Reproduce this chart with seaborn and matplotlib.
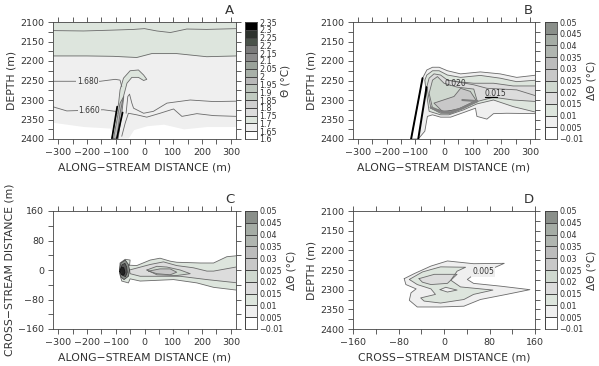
import numpy as np
import seaborn as sns
import matplotlib
matplotlib.use("Agg")
import matplotlib.pyplot as plt
from matplotlib.colors import ListedColormap

# colour key levels, top to bottom
theta_levels = ["2.35", "2.3", "2.25", "2.2", "2.15", "2.1", "2.05", "2", "1.95", "1.9",
                "1.85", "1.8", "1.75", "1.7", "1.65", "1.6"]
theta_colors = ["#000000", "#2e332e", "#4a524a", "#7a7a7a", "#8c8c8c", "#9aa29a", "#a8b0a8",
                "#b8b8b8", "#bcc4bc", "#c0cac0", "#cfcfcf", "#dcdcdc", "#dde5dd", "#efefef", "#ffffff"]
delta_levels = ["0.05", "0.045", "0.04", "0.035", "0.03", "0.025", "0.02", "0.015", "0.01",
                "0.005", "\u22120.01"]
delta_colors = ["#8a8f8a", "#a5aca5", "#b0b5b0", "#bcbcbc", "#c8c8c8", "#cfd8cf", "#dcdcdc",
                "#dde5dd", "#efefef", "#ffffff"]

# panel A: isotherms
a_top_x = [-320, -212, -119, -38, 0, 43, 90, 147, 216, 320]
a_top_d = [2122, 2123, 2121, 2119, 2117, 2123, 2127, 2118, 2119, 2117]
a_mid_x = [-320, -200, -108, -27, 25, 112, 216, 320]
a_mid_d = [2187, 2187, 2188, 2191, 2181, 2181, 2189, 2187]
a_white_x = [-320, -212, -119, -102, -56, -38, 8, 66, 136, 217, 320]
a_white_d = [2357, 2368, 2372, 2400, 2397, 2376, 2366, 2362, 2374, 2368, 2368]
a_680_x = [-320, -154, -102, -85, -79]
a_680_d = [2252, 2252, 2247, 2249, 2266]
a_660_x = [-320, -270, -143, -102, -94]
a_660_d = [2317, 2328, 2325, 2329, 2334]
a_low1_x = [-64, -58, -52, -44, -38, -3, 31, 78, 159, 240, 320]
a_low1_d = [2334, 2291, 2285, 2308, 2321, 2334, 2329, 2308, 2300, 2304, 2303]
a_low2_x = [-79, -67, -56, -27, 8, 54, 101, 130, 182, 240, 320]
a_low2_d = [2393, 2359, 2334, 2338, 2344, 2334, 2323, 2342, 2335, 2340, 2342]
a_plume_x = [-114, -90, -85, -73, -50, -21, -3, 8, -3, -21, -44, -61, -73, -85, -96]
a_plume_d = [2400, 2308, 2274, 2244, 2225, 2223, 2236, 2247, 2250, 2242, 2242, 2257, 2291, 2334, 2397]
a_core_x = [-108, -85, -72, -80, -92]
a_core_d = [2400, 2308, 2291, 2340, 2400]
a_black1_x = [-113, -95]
a_black1_d = [2398, 2317]
a_black2_x = [-96, -76]
a_black2_d = [2398, 2332]

# panel B: temperature anomaly
b_005_x = [-90, -67, -58, -40, -12, 23, 69, 110, 115, 150, 173, 219, 325, 325, 254, 196, 127, 58, 12, -17, -40, -60, -75, -115]
b_005_d = [2400, 2380, 2342, 2338, 2344, 2344, 2332, 2321, 2342, 2349, 2335, 2334, 2335, 2236, 2242, 2233, 2228, 2233, 2225, 2216, 2216, 2223, 2244, 2400]
b_hole_x = [-113, -75, -64, -92]
b_hole_d = [2400, 2248, 2267, 2400]
b_010_x = [-63, -52, -12, 17, 69, 115, 173, 242, 325, 325, 254, 196, 127, 58, 12, -17, -40, -60, -67]
b_010_d = [2274, 2329, 2338, 2338, 2325, 2310, 2300, 2317, 2332, 2249, 2253, 2244, 2237, 2242, 2236, 2225, 2225, 2236, 2249]
b_015_x = [-46, -12, 23, 69, 115, 173, 242, 325, 325, 242, 173, 104, 46, 12, -12, -35, -52, -60]
b_015_d = [2321, 2334, 2334, 2321, 2304, 2293, 2300, 2304, 2264, 2264, 2257, 2257, 2253, 2249, 2236, 2233, 2244, 2266]
b_020_x = [-40, 0, 46, 115, 104, 46, 0, -23, -40, -52]
b_020_d = [2321, 2329, 2325, 2300, 2272, 2267, 2257, 2240, 2249, 2283]
b_025_x = [-6, 12, 58, 115, 92, 58, 35, -35]
b_025_d = [2329, 2329, 2321, 2304, 2278, 2270, 2291, 2308]
b_inner_x = [12, 104, 150, 254, 320]
b_inner_d = [2249, 2261, 2270, 2274, 2289]
b_band_x = [-46, -10, 23, 60, 116]
b_band_d = [2319, 2330, 2332, 2322, 2303]
b_band2_x = [64, 116]
b_band2_d = [2300, 2303]
b_black1_x = [-115, -75]
b_black1_d = [2400, 2244]
b_black2_x = [-90, -61]
b_black2_d = [2400, 2267]
b_under_x = [144, 185]
b_under_d = [2293, 2293]

# panel C: plan view
c_005_x = [-52, -27, 20, 54, 89, 112, 194, 240, 286, 325, 325, 240, 182, 101, 43, -15, -50, -56, -79, -87, -85, -67, -50]
c_005_y = [13, 12, 27, 32, 24, 21, 19, 19, 36, 39, -55, -47, -35, -26, -28, -30, -24, -35, -30, -8, 19, 29, 27]
c_010_x = [-52, 20, 66, 112, 170, 217, 240, 325, 325, 217, 124, 43, -15, -50]
c_010_y = [0, 15, 22, 12, 6, -3, -3, 9, -35, -26, -17, -17, -17, -10]
c_015_x = [8, 43, 78, 124, 159, 112, 43]
c_015_y = [0, 10, 8, 0, -10, -15, -13]
c_020_x = [14, 54, 89, 112, 89, 43]
c_020_y = [-3, 3, 3, -6, -13, -10]
c_blob1_x = [-87, -82, -67, -56, -52, -56, -71, -82]
c_blob1_y = [0, 19, 27, 15, 0, -17, -26, -19]
c_blob2_x = [-84, -78, -68, -62, -60, -66, -78]
c_blob2_y = [0, 14, 18, 8, -6, -18, -14]
c_blob3_x = [-86, -80, -72, -68, -72, -80]
c_blob3_y = [-4, 8, 6, -6, -14, -12]

# panel D: cross section
d_005_x = [-70, -52, -23, 6, 52, 106, 81, 55, 41, 52, 99, 151, 110, 64, 35, -6, -47, -61, -58, -49, -67]
d_005_d = [2272, 2259, 2240, 2227, 2234, 2233, 2249, 2259, 2274, 2284, 2291, 2300, 2312, 2325, 2342, 2344, 2344, 2327, 2308, 2298, 2287]
d_010_x = [-61, -38, -6, 38, 23, 12, 29, 86, 52, 35, -6, -35, -41, -15, -23, -47]
d_010_d = [2274, 2255, 2242, 2243, 2253, 2276, 2293, 2301, 2312, 2325, 2334, 2329, 2321, 2312, 2298, 2287]
d_015_x = [-44, -17, 23, 6, -23, -38]
d_015_d = [2272, 2261, 2261, 2284, 2287, 2281]
d_hole_x = [-7, 3, 23, 6]
d_hole_d = [2300, 2294, 2301, 2306]

along_ticks = [-300, -200, -100, 0, 100, 200, 300]
along_labels = ["\u2212300", "\u2212200", "\u2212100", "0", "100", "200", "300"]
depth_ticks = [2100, 2150, 2200, 2250, 2300, 2350, 2400]
cross_ticks = [-160, -80, 0, 80, 160]
cross_labels = ["\u2212160", "\u221280", "0", "80", "160"]

sns.set_style("ticks")
plt.rcParams["font.family"] = ["DejaVu Sans"]
plt.rcParams["axes.linewidth"] = 0.6
plt.rcParams["axes.edgecolor"] = "#444444"
W, H = 599.0, 366.0
LINE = "#6a6a6a"
TEXT = "#333333"

fig = plt.figure(figsize=(5.99, 3.66), dpi=100)


def place(l, t, r, b):
    return fig.add_axes([l / W, 1 - b / H, (r - l) / W, (b - t) / H])


def trace(ax, xs, ys, color=LINE, lw=0.6):
    sns.lineplot(x=xs, y=ys, ax=ax, color=color, lw=lw, sort=False, estimator=None, errorbar=None)


def region(ax, xs, ys, color, edge=LINE, lw=0.6):
    ax.fill(xs, ys, color=color, lw=0)
    trace(ax, list(xs) + [xs[0]], list(ys) + [ys[0]], color=edge, lw=lw)


def tag(ax, x, y, s, bg=None):
    box = dict(fc=bg, ec="none", pad=0.6) if bg else None
    ax.text(x, y, s, fontsize=5.5, color=TEXT, ha="center", va="center", bbox=box, zorder=5)


def frame(ax, xlim, ylim, xt, xl, yt, yl, xminor, yminor, xlabel, ylabel, letter, ylab_x):
    ax.set_xlim(*xlim)
    ax.set_ylim(*ylim)
    ax.set_xticks(xt)
    ax.set_xticklabels(xl)
    ax.set_yticks(yt)
    ax.set_yticklabels(yl)
    ax.set_xticks(xminor, minor=True)
    ax.set_yticks(yminor, minor=True)
    ax.tick_params(which="both", direction="out", length=3.5, width=0.6, color="#444444",
                   top=True, right=True, labelsize=6.8, labelcolor=TEXT, pad=3)
    ax.set_xlabel(xlabel, fontsize=7.8, color=TEXT)
    ax.set_ylabel(ylabel, fontsize=7.8, color=TEXT)
    ax.xaxis.set_label_coords(0.5, -0.2)
    ax.yaxis.set_label_coords(ylab_x, 0.5)
    ax.text(0.965, 1.1, letter, transform=ax.transAxes, fontsize=9.5, color=TEXT, ha="center", va="center")


def key(l, t, r, b, colors, labels, title, tx):
    cax = place(l, t, r, b)
    vals = np.arange(len(colors)).reshape(-1, 1)
    sns.heatmap(vals, ax=cax, cmap=ListedColormap(colors), cbar=False, linewidths=0.5,
                linecolor="#444444", xticklabels=False, vmin=-0.5, vmax=len(colors) - 0.5)
    cax.set_yticks(np.arange(len(labels)))
    cax.set_yticklabels(labels, rotation=0)
    cax.yaxis.tick_right()
    cax.tick_params(length=0, labelsize=5.8, labelcolor=TEXT, pad=1.5)
    for s in cax.spines.values():
        s.set_visible(True)
        s.set_linewidth(0.6)
    fig.text(tx / W, 1 - (t + b) / 2 / H, title, rotation=90, fontsize=7.5, color=TEXT, ha="center", va="center")


x_minor = list(range(-300, 301, 50))
d_minor = list(range(2100, 2401, 25))
depth_labels = [str(v) for v in depth_ticks]
XL = "ALONG\u2212STREAM DISTANCE (m)"
CL = "CROSS\u2212STREAM DISTANCE (m)"

# A
ax = place(53, 22, 236, 139)
ax.set_facecolor("#efefef")
ax.fill_between(a_mid_x, 2100, a_mid_d, color="#dde5dd", lw=0)
ax.fill_between(a_white_x, a_white_d, 2400, color="#ffffff", lw=0)
trace(ax, a_top_x, a_top_d)
trace(ax, a_mid_x, a_mid_d)
trace(ax, a_680_x, a_680_d)
trace(ax, a_660_x, a_660_d)
trace(ax, a_low1_x, a_low1_d)
trace(ax, a_low2_x, a_low2_d)
region(ax, a_plume_x, a_plume_d, "#dde5dd")
region(ax, a_core_x, a_core_d, "#bcbcbc")
trace(ax, a_black1_x, a_black1_d, color="black", lw=1.2)
trace(ax, a_black2_x, a_black2_d, color="black", lw=1.2)
tag(ax, -198, 2253, "1.680", "#efefef")
tag(ax, -191, 2328, "1.660", "#efefef")
frame(ax, (-318, 318), (2400, 2100), along_ticks, along_labels, depth_ticks, depth_labels,
      x_minor, d_minor, XL, "DEPTH (m)", "A", -0.2)
key(245, 22, 257, 139, theta_colors, theta_levels, "\u0398 (\u00b0C)", 285)

# B
ax = place(353, 22, 535, 139)
region(ax, b_005_x, b_005_d, "#efefef")
region(ax, b_hole_x, b_hole_d, "#ffffff", edge="#ffffff", lw=0)
region(ax, b_010_x, b_010_d, "#dde5dd")
region(ax, b_015_x, b_015_d, "#dcdcdc")
region(ax, b_020_x, b_020_d, "#cfd8cf")
region(ax, b_025_x, b_025_d, "#c8c8c8")
trace(ax, b_inner_x, b_inner_d)
trace(ax, b_band_x, b_band_d, color="#808080", lw=1.8)
trace(ax, b_band2_x, b_band2_d, color="#808080", lw=1.5)
trace(ax, b_black1_x, b_black1_d, color="black", lw=1.4)
trace(ax, b_black2_x, b_black2_d, color="black", lw=1.4)
trace(ax, b_under_x, b_under_d, color="black", lw=0.9)
tag(ax, 40, 2257, "0.020")
tag(ax, 179, 2283, "0.015")
frame(ax, (-318, 318), (2400, 2100), along_ticks, along_labels, depth_ticks, depth_labels,
      x_minor, d_minor, XL, "DEPTH (m)", "B", -0.2)
key(545, 22, 557, 139, delta_colors, delta_levels, "\u0394\u0398 (\u00b0C)", 591)

# C
ax = place(53, 211, 236, 329)
region(ax, c_005_x, c_005_y, "#dde5dd")
region(ax, c_010_x, c_010_y, "#dcdcdc")
region(ax, c_015_x, c_015_y, "#cfd8cf")
region(ax, c_020_x, c_020_y, "#c8c8c8")
region(ax, c_blob1_x, c_blob1_y, "#8a8f8a", edge="#444444")
region(ax, c_blob2_x, c_blob2_y, "#555555", edge="#333333")
region(ax, c_blob3_x, c_blob3_y, "#222222", edge="#111111")
frame(ax, (-318, 318), (-160, 160), along_ticks, along_labels, cross_ticks,
      [v for v in cross_labels], x_minor, list(range(-160, 161, 40)), XL, CL, "C", -0.213)
key(245, 211, 257, 329, delta_colors, delta_levels, "\u0394\u0398 (\u00b0C)", 291)

# D
ax = place(353, 211, 535, 329)
region(ax, d_005_x, d_005_d, "#efefef")
region(ax, d_010_x, d_010_d, "#dde5dd")
region(ax, d_015_x, d_015_d, "#dcdcdc")
region(ax, d_hole_x, d_hole_d, "#efefef")
tag(ax, 69, 2253, "0.005", "#efefef")
frame(ax, (-160, 160), (2400, 2100), cross_ticks, cross_labels, depth_ticks, depth_labels,
      list(range(-160, 161, 40)), d_minor, CL, "DEPTH (m)", "D", -0.2)
key(545, 211, 557, 329, delta_colors, delta_levels, "\u0394\u0398 (\u00b0C)", 591)

fig.savefig("out.png", dpi=100)
